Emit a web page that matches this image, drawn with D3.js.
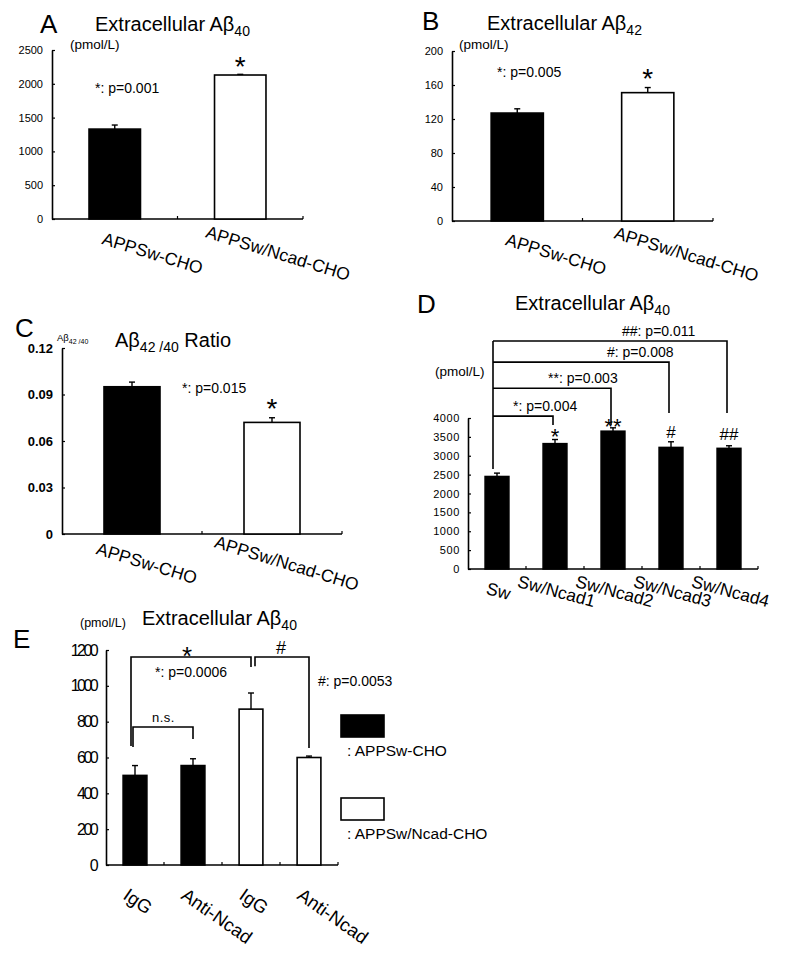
<!DOCTYPE html>
<html><head><meta charset="utf-8">
<script src="https://cdn.jsdelivr.net/npm/d3@7"></script>
<style>
body{margin:0;background:#fff}
svg{display:block}
text{font-family:"Liberation Sans",Arial,sans-serif;fill:#000}
</style>
</head><body>
<svg id="c" width="800" height="961"></svg>
<script>
// ---------- DATA ----------
const catsAC = ["APPSw-CHO", "APPSw/Ncad-CHO"];
const valsA = [1330, 2130];
const errA = [60, 10];
const ticksA = [0, 500, 1000, 1500, 2000, 2500];

const valsB = [127, 151];
const errB = [5, 6];
const ticksB = [0, 40, 80, 120, 160, 200];

const valsC = [0.095, 0.072];
const errC = [0.003, 0.003];
const ticksC = [0, 0.03, 0.06, 0.09, 0.12];
const tickLabelsC = ["0", "0.03", "0.06", "0.09", "0.12"];

const catsD = ["Sw", "Sw/Ncad1", "Sw/Ncad2", "Sw/Ncad3", "Sw/Ncad4"];
const valsD = [2450, 3320, 3650, 3220, 3195];
const errD = [90, 110, 90, 150, 70];
const ticksD = [0, 500, 1000, 1500, 2000, 2500, 3000, 3500, 4000];
const marksD = ["", "*", "**", "#", "##"];
const pLabelsD = ["*: p=0.004", "**: p=0.003", "#: p=0.008", "##: p=0.011"];

const catsE = ["IgG", "Anti-Ncad", "IgG", "Anti-Ncad"];
const groupsE = ["APPSw-CHO", "APPSw/Ncad-CHO"];
const groupOfE = [0, 0, 1, 1];
const valsE = [500, 555, 870, 600];
const errE = [55, 38, 90, 8];
const ticksE = [0, 200, 400, 600, 800, 1000, 1200];

// ---------- HELPERS ----------
const svg = d3.select("#c");
const SW = 1.6;

function text(x, y, s, fs, opts = {}) {
  const t = svg.append("text").attr("x", x).attr("y", y).attr("font-size", fs).text(s);
  if (opts.anchor) t.attr("text-anchor", opts.anchor);
  if (opts.weight) t.attr("font-weight", opts.weight);
  if (opts.rotate !== undefined) t.attr("transform", `rotate(${opts.rotate},${x},${y})`);
  if (opts.ls !== undefined) t.attr("letter-spacing", opts.ls);
  return t;
}
function titleSub(x, y, main, sub, fs, subfs, after) {
  const t = svg.append("text").attr("x", x).attr("y", y).attr("font-size", fs);
  t.append("tspan").text(main);
  t.append("tspan").attr("font-size", subfs).attr("dy", subfs * 0.38).text(sub);
  if (after) t.append("tspan").attr("dy", -subfs * 0.38).text(after);
  return t;
}
function line(x1, y1, x2, y2, w = SW) {
  svg.append("line").attr("x1", x1).attr("y1", y1).attr("x2", x2).attr("y2", y2)
    .attr("stroke", "#000").attr("stroke-width", w);
}
function path(pts, w = SW) {
  svg.append("path").attr("d", d3.line()(pts)).attr("fill", "none")
    .attr("stroke", "#000").attr("stroke-width", w);
}
// symbol centred at (cx, cy)
function sym(cx, cy, s, fs) {
  const star = s.indexOf("*") >= 0;
  const base = cy + (star ? 0.47 : 0.36) * fs;
  return text(cx, base, s, fs, { anchor: "middle" });
}

function panel(p) {
  const n = p.vals.length;
  const y = d3.scaleLinear().domain([0, p.max]).range([p.yB, p.yT]);
  const x = d3.scaleBand().domain(d3.range(n)).range([p.xL, p.xR])
    .paddingInner(p.pad).paddingOuter(p.pad / 2);
  const ax = svg.append("g").attr("transform", `translate(${p.xL},0)`)
    .call(d3.axisLeft(y).tickValues(p.ticks).tickSize(-3).tickSizeOuter(0)
      .tickPadding(p.tickPad).tickFormat(p.fmt || (d => d)));
  ax.attr("font-family", null).attr("font-size", null);
  ax.select(".domain").attr("stroke-width", SW);
  ax.selectAll(".tick line").attr("stroke-width", 1.2);
  ax.selectAll(".tick text").attr("font-size", p.tickFs)
    .attr("font-weight", p.tickWeight || null)
    .attr("letter-spacing", p.tickLs || 0);
  // x axis
  line(p.xL, p.yB, p.xR, p.yB);
  for (let i = 1; i <= n; i++) {
    const bx = p.xL + i * x.step();
    line(bx, p.yB, bx, p.yB - 3, 1.2);
  }
  // bars
  p.vals.forEach((v, i) => {
    svg.append("rect").attr("x", x(i)).attr("y", y(v))
      .attr("width", x.bandwidth()).attr("height", y(0) - y(v))
      .attr("fill", p.fills[i]).attr("stroke", "#000").attr("stroke-width", SW);
    const cx = x(i) + x.bandwidth() / 2;
    const e = p.errs[i];
    line(cx, y(v), cx, y(v + e), 1.4);
    line(cx - 3, y(v + e), cx + 3, y(v + e), 1.4);
  });
  return { x, y, c: i => x(i) + x.bandwidth() / 2 };
}

// ---------- PANEL A ----------
text(40, 33, "A", 26);
titleSub(95, 31, "Extracellular Aβ", "40", 20, 14);
text(70, 49, "(pmol/L)", 13.5);
const A = panel({ xL: 52, xR: 303, yB: 219, yT: 50, max: 2500, vals: valsA, errs: errA,
  fills: ["#000", "#fff"], ticks: ticksA, tickPad: 9, tickFs: 11, pad: 0.59 });
text(95, 93, "*: p=0.001", 14);
sym(A.c(1), A.y(valsA[1] + errA[1]) - 11, "*", 28);
catsAC.forEach((c, i) => text(A.c(i) + 36, 259, c, 17.5, { anchor: "middle", rotate: 17 }));

// ---------- PANEL B ----------
text(422, 30, "B", 26);
titleSub(487, 30, "Extracellular Aβ", "42", 20, 14);
text(459, 49, "(pmol/L)", 13.5);
const B = panel({ xL: 452, xR: 713, yB: 221, yT: 51, max: 200, vals: valsB, errs: errB,
  fills: ["#000", "#fff"], ticks: ticksB, tickPad: 9, tickFs: 11, pad: 0.6 });
text(497, 77, "*: p=0.005", 14);
sym(B.c(1), B.y(valsB[1] + errB[1]) - 12.5, "*", 28);
catsAC.forEach((c, i) => text(B.c(i) + 37, 260, c, 17.5, { anchor: "middle", rotate: 17 }));

// ---------- PANEL C ----------
text(15, 337, "C", 26);
titleSub(57, 341, "Aβ", "42 /40", 9.5, 7);
titleSub(115, 347, "Aβ", "42 /40", 20, 14, "  Ratio");
const C = panel({ xL: 62, xR: 342, yB: 534, yT: 348, max: 0.12, vals: valsC, errs: errC,
  fills: ["#000", "#fff"], ticks: ticksC, tickPad: 9, tickFs: 13, tickWeight: "bold",
  fmt: (d, i) => tickLabelsC[i], pad: 0.6 });
text(182, 393, "*: p=0.015", 14);
sym(C.c(1), C.y(valsC[1] + errC[1]) - 13, "*", 28);
catsAC.forEach((c, i) => text(C.c(i) + 13, 569, c, 17.5, { anchor: "middle", rotate: 17 }));

// ---------- PANEL D ----------
text(417, 313, "D", 26);
titleSub(515, 310, "Extracellular Aβ", "40", 20, 14);
text(435, 376, "(pmol/L)", 13.5);
const D = panel({ xL: 468, xR: 758, yB: 569, yT: 418, max: 4000, vals: valsD, errs: errD,
  fills: valsD.map(() => "#000"), ticks: ticksD, tickPad: 8, tickFs: 11, tickLs: 0.6, pad: 0.59 });
// brackets (levels in data units)
const levD = [4050, 4790, 5480, 6040];
const endD = [3815, 3815, 4132, 4132];
const sx = D.c(0) - 4;
line(sx, D.y(2650), sx, D.y(levD[3]));
[1, 2, 3, 4].forEach((k, j) => {
  const tx = D.c(k) - 2;
  path([[sx, D.y(levD[j])], [tx, D.y(levD[j])], [tx, D.y(endD[j])]]);
});
const pxD = [513, 548, 607, 622];
pLabelsD.forEach((s, j) => text(pxD[j], D.y(levD[j]) - 5, s, 14));
const offD = [0, 6, 4, 10, 12];
const fsD = [0, 22, 22, 17, 17];
marksD.forEach((m, i) => { if (m) sym(D.c(i), D.y(valsD[i] + errD[i]) - offD[i], m, fsD[i]); });
catsD.forEach((c, i) => text(D.c(i), 597, c, 17.5, { anchor: "middle", rotate: 15 }));

// ---------- PANEL E ----------
text(13, 648, "E", 26);
text(80, 627, "(pmol/L)", 12.5);
titleSub(142, 625, "Extracellular Aβ", "40", 20, 14);
const E = panel({ xL: 106, xR: 338, yB: 865, yT: 650, max: 1200, vals: valsE, errs: errE,
  fills: groupOfE.map(g => g === 0 ? "#000" : "#fff"), ticks: ticksE, tickPad: 10,
  tickFs: 16, tickLs: -2.6, pad: 0.59 });
// brackets
path([[E.c(0) - 4, E.y(664)], [E.c(0) - 4, E.y(1161)], [E.c(2), E.y(1161)], [E.c(2), E.y(1105)]]);
path([[E.c(2) + 4, E.y(1110)], [E.c(2) + 4, E.y(1161)], [E.c(3), E.y(1161)], [E.c(3), E.y(653)]]);
path([[E.c(0) - 2, E.y(658)], [E.c(0) - 2, E.y(770)], [E.c(1), E.y(770)], [E.c(1), E.y(703)]]);
sym((E.c(0) + E.c(2)) / 2 - 6, E.y(1161) - 4.5, "*", 26);
sym((E.c(2) + E.c(3)) / 2 + 1, E.y(1161) - 9, "#", 18);
text(152, 722, "n.s.", 13, { ls: 0.5 });
text(155, 677, "*: p=0.0006", 14);
text(318, 686, "#: p=0.0053", 14);
catsE.forEach((c, i) => text(E.c(i) - 13, 898, c, 18.5, { rotate: 35 }));
// legend
const legY = [715, 798];
groupsE.forEach((g, k) => {
  svg.append("rect").attr("x", 341).attr("y", legY[k]).attr("width", 43).attr("height", 22)
    .attr("fill", k === 0 ? "#000" : "#fff").attr("stroke", "#000").attr("stroke-width", SW);
  text(347, legY[k] + 41, ": " + g, 15.5);
});
</script>
</body></html>
